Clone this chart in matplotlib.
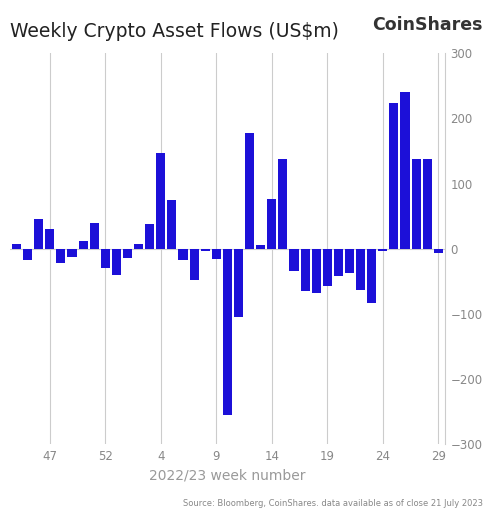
import matplotlib
matplotlib.use('Agg')
from matplotlib import pyplot as plt

# Weekly flows in US$m, one bar per week
flows = [8, -18, 45, 30, -22, -12, 12, 40, -30, -40, -14, 7, 38, 147, 75,
         -18, -48, -4, -15, -255, -105, 178, 5, 76, 137, -34, -65, -68, -57,
         -42, -38, -63, -83, -3, 223, 240, 138, 137, -6]
tick_pos = [3, 8, 13, 18, 23, 28, 33, 38]
tick_labels = ['47', '52', '4', '9', '14', '19', '24', '29']
y_ticks = [-300, -200, -100, 0, 100, 200, 300]

fig = plt.figure(figsize=(4.9, 5.22), dpi=100)
ax = fig.add_axes([0.02, 0.149, 0.888, 0.749])

ax.bar(range(len(flows)), flows, width=0.82, color='#1c10d8', zorder=3)
ax.set_xlim(-0.6, 38.6)
ax.set_ylim(-300, 300)
ax.set_xticks(tick_pos)
ax.set_xticklabels(tick_labels)
ax.set_yticks(y_ticks)
ax.yaxis.tick_right()
ax.tick_params(colors='#888888', labelsize=8.5, length=0, pad=4)
ax.grid(axis='x', color='#cccccc', linewidth=0.8, zorder=0)
ax.axhline(0, color='#cccccc', linewidth=0.8, zorder=1)
for s in ['top', 'left', 'bottom']:
    ax.spines[s].set_visible(False)
ax.spines['right'].set_color('#cccccc')
ax.set_xlabel('2022/23 week number', color='#999999', fontsize=10, labelpad=4)

fig.text(0.02, 0.94, 'Weekly Crypto Asset Flows (US$m)', fontsize=13.5, color='#222222', va='center')
fig.text(0.985, 0.952, 'CoinShares', fontsize=12.5, fontweight='bold', color='#333333', ha='right', va='center')
fig.text(0.985, 0.03, 'Source: Bloomberg, CoinShares. data available as of close 21 July 2023',
         fontsize=6, color='#888888', ha='right')

fig.savefig('out.png', dpi=100, facecolor='white')
